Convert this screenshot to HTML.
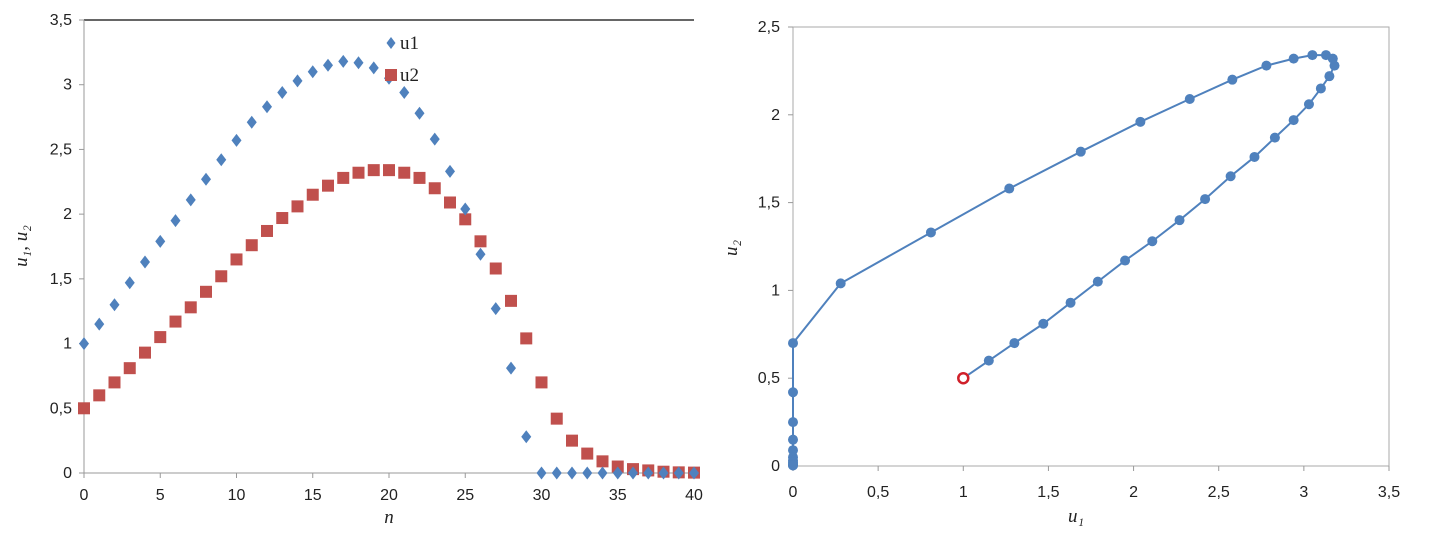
<!DOCTYPE html>
<html><head><meta charset="utf-8"><style>
body{margin:0;background:#fff;width:1432px;height:530px;overflow:hidden}
svg text{font-family:"Liberation Sans",sans-serif;font-size:16px;fill:#222}
.it{font-family:"Liberation Serif",serif;font-style:italic;font-size:19px}
</style></head><body>
<svg id="s" width="1432" height="530"></svg>
<script>
const nVals=[];for(let i=0;i<=40;i++)nVals.push(i);
const u1=[1,1.15,1.3,1.47,1.63,1.79,1.95,2.11,2.27,2.42,2.57,2.71,2.83,2.94,3.03,3.1,3.15,3.18,3.17,3.13,3.05,2.94,2.78,2.58,2.33,2.04,1.69,1.27,0.81,0.28,0,0,0,0,0,0,0,0,0,0,0];
const u2=[0.5,0.6,0.7,0.81,0.93,1.05,1.17,1.28,1.4,1.52,1.65,1.76,1.87,1.97,2.06,2.15,2.22,2.28,2.32,2.34,2.34,2.32,2.28,2.2,2.09,1.96,1.79,1.58,1.33,1.04,0.7,0.42,0.25,0.15,0.09,0.05,0.03,0.02,0.01,0.005,0.003];
const leftXTicks=[0,5,10,15,20,25,30,35,40];
const leftYTicks=["0","0,5","1","1,5","2","2,5","3","3,5"];
const rightXTicks=["0","0,5","1","1,5","2","2,5","3","3,5"];
const rightYTicks=["0","0,5","1","1,5","2","2,5"];
const S=document.getElementById('s');const NS='http://www.w3.org/2000/svg';
function mk(t,a,txt){const e=document.createElementNS(NS,t);for(const k in a)e.setAttribute(k,a[k]);if(txt!=null)e.textContent=txt;S.appendChild(e);return e;}
const lx=v=>84+v*(694-84)/40, ly=v=>473-v*(473-20)/3.5;
let e;
e=mk('line',{x1:84,y1:20,x2:694,y2:20,stroke:'#333','stroke-width':1.5});

e=mk('line',{x1:84,y1:20,x2:84,y2:473,stroke:'#999'});

e=mk('line',{x1:84,y1:473,x2:694,y2:473,stroke:'#999'});

leftYTicks.forEach((t,i)=>{const y=ly(i*0.5);mk('line',{x1:79,y1:y,x2:84,y2:y,stroke:'#999'});
e=mk('text',{x:72,y:y+5,'text-anchor':'end'},t);});
leftXTicks.forEach(t=>{const x=lx(t);mk('line',{x1:x,y1:473,x2:x,y2:478,stroke:'#999'});
e=mk('text',{x:x,y:500,'text-anchor':'middle'},String(t));});
e=mk('text',{x:389,y:523,'text-anchor':'middle',class:'it'},'n');
e=mk('text',{x:0,y:0,'text-anchor':'middle',class:'it',transform:'translate(27,246) rotate(-90)'},'u₁, u₂');
nVals.forEach((n,i)=>{const x=lx(n),y=ly(u2[i]);
e=mk('rect',{x:x-6,y:y-6,width:12,height:12,fill:'#c0504d'});});
nVals.forEach((n,i)=>{const x=lx(n),y=ly(u1[i]);
e=mk('polygon',{points:`${x},${y-6.5} ${x+5},${y} ${x},${y+6.5} ${x-5},${y}`,fill:'#4f81bd'});});
e=mk('polygon',{points:'391,37 395.5,43 391,49 386.5,43',fill:'#4f81bd'});
e=mk('text',{x:400,y:49,style:'font-family:Liberation Serif,serif;font-size:19px'},'u1');
e=mk('rect',{x:385,y:69,width:12,height:12,fill:'#c0504d'});
e=mk('text',{x:400,y:81,style:'font-family:Liberation Serif,serif;font-size:19px'},'u2');
const rx=v=>793+v*(1389-793)/3.5, ry=v=>466-v*(466-27)/2.5;
e=mk('rect',{x:793,y:27,width:596,height:439,fill:'none',stroke:'#aaa'});
rightYTicks.forEach((t,i)=>{const y=ry(i*0.5);mk('line',{x1:788,y1:y,x2:793,y2:y,stroke:'#999'});
e=mk('text',{x:780,y:y+5,'text-anchor':'end'},t);});
rightXTicks.forEach((t,i)=>{const x=rx(i*0.5);mk('line',{x1:x,y1:466,x2:x,y2:471,stroke:'#999'});
e=mk('text',{x:x,y:497,'text-anchor':'middle'},t);});
e=mk('text',{x:1076,y:522,'text-anchor':'middle',class:'it'},'u₁');
e=mk('text',{x:0,y:0,'text-anchor':'middle',class:'it',transform:'translate(737,248) rotate(-90)'},'u₂');
e=mk('polyline',{points:u1.map((v,i)=>rx(v)+','+ry(u2[i])).join(' '),fill:'none',stroke:'#4f81bd','stroke-width':2});

u1.forEach((v,i)=>{if(i===0)return;e=mk('circle',{cx:rx(v),cy:ry(u2[i]),r:5,fill:'#4f81bd'});});
e=mk('circle',{cx:rx(u1[0]),cy:ry(u2[0]),r:5,fill:'#fff',stroke:'#d0202a','stroke-width':2.5});
</script>
</body></html>
